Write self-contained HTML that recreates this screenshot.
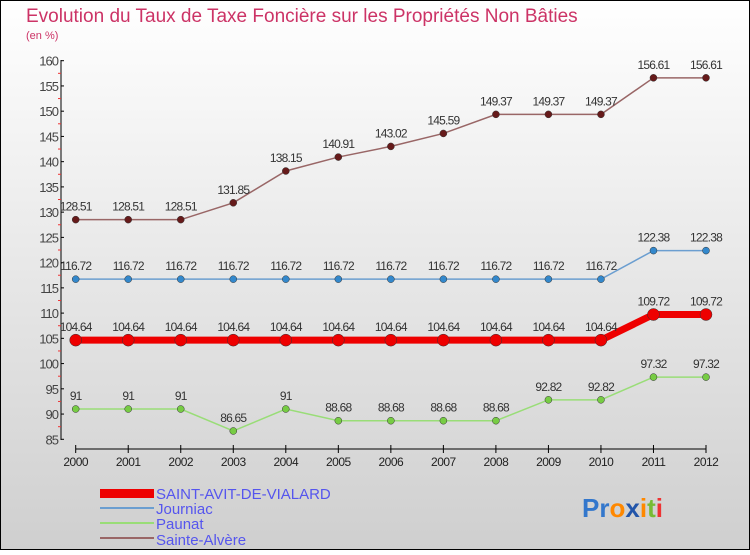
<!DOCTYPE html>
<html><head><meta charset="utf-8"><style>
body{margin:0}
#c{width:750px;height:550px;position:relative;font-family:"Liberation Sans",sans-serif;}
</style></head><body>
<div id="c">
<svg id="s" width="750" height="550" xmlns="http://www.w3.org/2000/svg">
<defs><linearGradient id="bg" x1="0" y1="0" x2="0" y2="1"><stop offset="0" stop-color="#ffffff"/><stop offset="1" stop-color="#cfcfcf"/></linearGradient></defs>
<rect x="0.5" y="0.5" width="749" height="549" fill="url(#bg)" stroke="#000"/>
<text x="26" y="22" font-size="19" fill="#cc3366">Evolution du Taux de Taxe Foncière sur les Propriétés Non Bâties</text>
<text x="26" y="39" font-size="11" fill="#cc3366">(en %)</text>
<g id="axes"></g><g id="series"></g>
<g>
<rect x="100" y="489" width="54" height="9" fill="#ee0000"/>
<text x="156" y="499" font-size="15" fill="#5555ee">SAINT-AVIT-DE-VIALARD</text>
<line x1="100" y1="508" x2="154" y2="508" stroke="#6b9ed0" stroke-width="2"/>
<text x="156" y="514" font-size="15" fill="#5555ee">Journiac</text>
<line x1="100" y1="523" x2="154" y2="523" stroke="#99dd77" stroke-width="2"/>
<text x="156" y="529" font-size="15" fill="#5555ee">Paunat</text>
<line x1="100" y1="538" x2="154" y2="538" stroke="#996666" stroke-width="2"/>
<text x="156" y="545" font-size="15" fill="#5555ee">Sainte-Alvère</text>
</g>
<text x="582" y="517" font-size="26" font-weight="bold"><tspan fill="#3377cc">Pr</tspan><tspan fill="#ff8800">o</tspan><tspan fill="#2255aa">x</tspan><tspan fill="#ff8800">i</tspan><tspan fill="#77bb33">t</tspan><tspan fill="#ee3333">i</tspan></text>
</svg>
</div>
<script>
const years=[2000,2001,2002,2003,2004,2005,2006,2007,2008,2009,2010,2011,2012];
const yTicks=[85,90,95,100,105,110,115,120,125,130,135,140,145,150,155,160];
const saintAvit=[104.64,104.64,104.64,104.64,104.64,104.64,104.64,104.64,104.64,104.64,104.64,109.72,109.72];
const journiac=[116.72,116.72,116.72,116.72,116.72,116.72,116.72,116.72,116.72,116.72,116.72,122.38,122.38];
const paunat=[91,91,91,86.65,91,88.68,88.68,88.68,88.68,92.82,92.82,97.32,97.32];
const sainteAlvere=[128.51,128.51,128.51,131.85,138.15,140.91,143.02,145.59,149.37,149.37,149.37,156.61,156.61];
const NS="http://www.w3.org/2000/svg";
const xS=i=>75.7+i*(706-75.7)/12;
const yS=v=>439.3-(v-85)*(439.3-60.7)/75;
function mk(t,a,p){const e=document.createElementNS(NS,t);for(const k in a)e.setAttribute(k,a[k]);p.appendChild(e);return e;}
const ax=document.getElementById('axes');
mk('line',{x1:61,y1:60,x2:61,y2:440,stroke:'#000'},ax);
yTicks.forEach(v=>{const y=yS(v);
 mk('line',{x1:61,y1:y,x2:64,y2:y,stroke:'#000'},ax);
 if(v<160){mk('line',{x1:58,y1:yS(v+2.5),x2:61,y2:yS(v+2.5),stroke:'#e33'},ax);}
 const t=mk('text',{x:58,y:y+5,'font-size':13,fill:'#444','text-anchor':'end','letter-spacing':'-1'},ax);
 
 
 t.textContent=v;});
mk('line',{x1:xS(0),y1:449,x2:xS(12),y2:449,stroke:'#000'},ax);
years.forEach((yr,i)=>{const x=xS(i);
 mk('line',{x1:x,y1:445,x2:x,y2:453,stroke:'#000'},ax);
 const t=mk('text',{x:x,y:466,'font-size':12,fill:'#222','text-anchor':'middle','letter-spacing':'-0.5'},ax);
 
 
 t.textContent=yr;});
const sg=document.getElementById('series');
function draw(name,data,line,dot,lw,r){
 const g=mk('g',{},sg);
 
 
 mk('polyline',{points:data.map((v,i)=>xS(i)+','+yS(v)).join(' '),fill:'none',stroke:line,'stroke-width':lw},g);
 data.forEach((v,i)=>{
  const c=mk('circle',{cx:xS(i),cy:yS(v),r:r,fill:dot,stroke:'#333','stroke-width':0.5},g);
  
  
  const t=mk('text',{x:xS(i),y:yS(v)-9,'font-size':12,fill:'#333','text-anchor':'middle','letter-spacing':'-0.8'},g);
  
  
  t.textContent=String(v).replace('.','.');});
}
draw('sainte-alvere',sainteAlvere,'#996666','#661a1a',1.5,3.5);
draw('journiac',journiac,'#6b9ed0','#3388cc',1.5,3.5);
draw('paunat',paunat,'#99dd77','#77cc44',1.5,3.5);
draw('saint-avit',saintAvit,'#ee0000','#ee0000',7,6);
</script>
</body></html>
